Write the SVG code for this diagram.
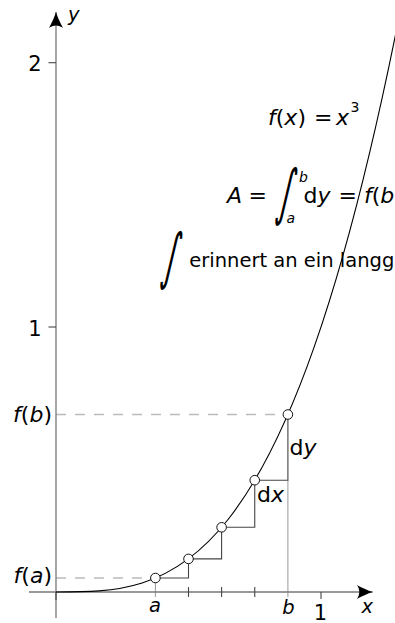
<svg xmlns="http://www.w3.org/2000/svg" width="395" height="623" viewBox="0 0 395 623">
<style>
.t{font-family:"DejaVu Sans",sans-serif;font-size:19.5px;fill:#000}
.m{font-family:"DejaVu Sans",sans-serif;font-size:22px;fill:#000}
.i{font-style:italic}
.n{font-family:"DejaVu Sans",sans-serif;font-size:21px;fill:#000}
.s{font-family:"DejaVu Sans",sans-serif;font-size:14px;font-style:italic;fill:#000}
.int{font-family:"DejaVu Sans",sans-serif;font-size:40px;fill:#000}
.axis{stroke:#777;stroke-width:1.3;fill:none}
.tick{stroke:#444;stroke-width:1.1}
.guide{stroke:#999;stroke-width:1}
.dash{stroke:#bbb;stroke-width:1.3;stroke-dasharray:10 9}
.step{stroke:#444;stroke-width:1.1;fill:none}
.pt{fill:#fff;stroke:#111;stroke-width:1}
</style>
<defs>
<marker id="arr" viewBox="-17 -8 18 16" refX="0" refY="0" markerWidth="18" markerHeight="16" markerUnits="userSpaceOnUse" orient="auto">
<path d="M0,0 C-5,-1.5 -10,-4 -16,-7 C-12.5,-3 -12.5,3 -16,7 C-10,4 -5,1.5 0,0 Z" fill="#000"/>
</marker>
</defs>
<g id="guides">
<line class="dash" x1="56" y1="414.5" x2="283" y2="414.5"/>
<line class="dash" x1="56" y1="578" x2="150.5" y2="578"/>
<line class="guide" x1="155.4" y1="578" x2="155.4" y2="597"/>
<line class="guide" x1="287.9" y1="480.2" x2="287.9" y2="597"/>
</g>
<g id="axes">
<line class="axis" x1="56" y1="618" x2="56" y2="12" marker-end="url(#arr)"/>
<line class="axis" x1="29" y1="592" x2="372.7" y2="592" marker-end="url(#arr)"/>
<line class="tick" x1="48.5" y1="62.7" x2="56" y2="62.7"/>
<line class="tick" x1="48.5" y1="327" x2="56" y2="327"/>
<line class="tick" x1="56" y1="592" x2="56" y2="600"/>
<line class="tick" x1="321" y1="592" x2="321" y2="599"/>
<line class="tick" x1="188.5" y1="587" x2="188.5" y2="597"/>
<line class="tick" x1="221.6" y1="587" x2="221.6" y2="597"/>
<line class="tick" x1="254.75" y1="587" x2="254.75" y2="597"/>
</g>
<g id="steps">
<path class="step" d="M155.4,578 H188.5 V558.9 H221.6 V527.3 H254.75 V480.2 H287.9 V414.5"/>
</g>
<g id="curve">
<path d="M56,592 C170.83,592 285.67,592 400.5,9.8" fill="none" stroke="#000" stroke-width="1.1"/>
</g>
<g id="points">
<circle class="pt" cx="155.4" cy="578" r="4.8"/>
<circle class="pt" cx="188.5" cy="558.9" r="4.8"/>
<circle class="pt" cx="221.6" cy="527.3" r="4.8"/>
<circle class="pt" cx="254.75" cy="480.2" r="4.8"/>
<circle class="pt" cx="287.9" cy="414.5" r="4.8"/>
</g>
<g id="labels">
<text class="t i" x="68" y="20.5">y</text>
<text class="t i" x="361.5" y="613">x</text>
<text class="n" x="35" y="70.5" text-anchor="middle">2</text>
<text class="n" x="35" y="335.5" text-anchor="middle">1</text>
<text class="n" x="320.5" y="619.5" text-anchor="middle">1</text>
<text class="t i" x="155" y="612" text-anchor="middle">a</text>
<text class="t i" x="288.5" y="614" text-anchor="middle">b</text>
<text class="m" x="52" y="422" text-anchor="end"><tspan class="i">f</tspan>(<tspan class="i">b</tspan>)</text>
<text class="m" x="52" y="583" text-anchor="end"><tspan class="i">f</tspan>(<tspan class="i">a</tspan>)</text>
<text class="m" x="289.5" y="455">d<tspan class="i">y</tspan></text>
<text class="m" x="257" y="501.5">d<tspan class="i">x</tspan></text>
</g>
<g id="formulas">
<text class="m" x="268" y="124.5"><tspan class="i">f</tspan>(<tspan class="i">x</tspan>)</text>
<text class="m" x="314" y="124.5">=</text>
<text class="m i" x="336" y="124.5">x</text>
<text class="s" x="350.5" y="112" style="font-style:normal">3</text>
<text class="m i" x="227" y="203.3">A</text>
<text class="m" x="248.5" y="203.3">=</text>
<text class="int" transform="translate(275,213.2) skewX(-12) scale(0.75,1.53)">∫</text>
<text class="s" x="299" y="181.5">b</text>
<text class="s" x="286.5" y="223">a</text>
<text class="m" x="303.5" y="203.3">d<tspan class="i">y</tspan></text>
<text class="m" x="338.5" y="203.3">=</text>
<text class="m" x="364" y="203.3"><tspan class="i">f</tspan>(<tspan class="i">b</tspan></text>
<text class="int" transform="translate(160,277.2) skewX(-12) scale(0.75,1.53)">∫</text>
<text class="t" x="189.3" y="266.7">erinnert an ein langg</text>
</g>
</svg>
